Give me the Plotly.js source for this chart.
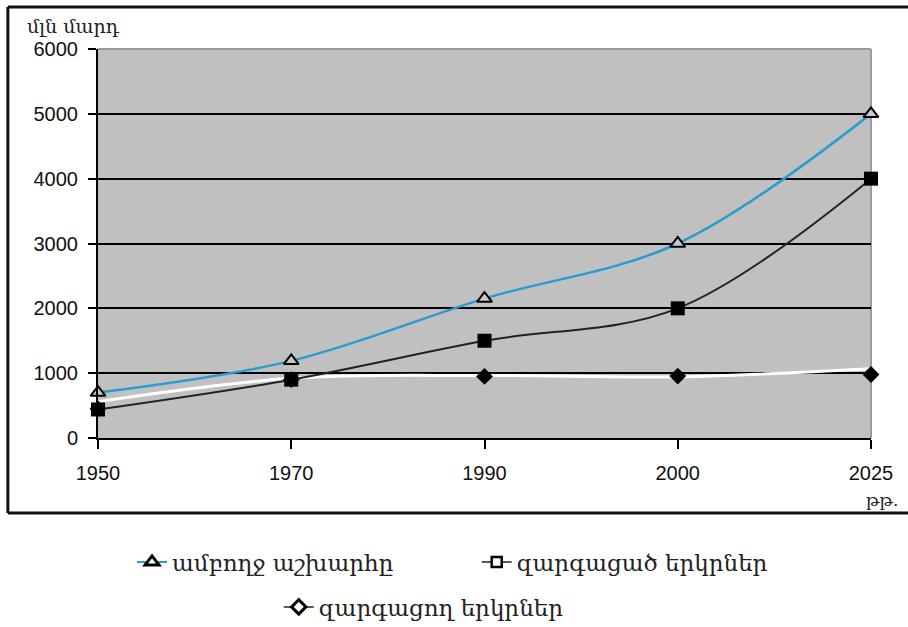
<!DOCTYPE html>
<html>
<head>
<meta charset="utf-8">
<script src="https://cdn.plot.ly/plotly-3.0.1.min.js"></script>
<style>html,body{margin:0;padding:0;background:#fff;}#chart{width:908px;height:627px;}</style>
</head>
<body>
<div id="chart"></div>
<script>
// Data
const years = ["1950", "1970", "1990", "2000", "2025"];
const worldPop = [700, 1190, 2150, 3000, 5000];          // ամբողջ աշխարհը
const developedPop = [440, 900, 1500, 2000, 4000];       // զարգացած երկրներ
const developingLine = [560, 920, 965, 945, 1070];       // զարգացող երկրներ (white curve)
const developingPts = [450, 900, 950, 955, 980];         // զարգացող երկրներ (markers)
const yTicks = [0, 1000, 2000, 3000, 4000, 5000, 6000];

const names = ["ամբողջ աշխարհը", "զարգացած երկրներ", "զարգացող երկրներ"];
const armFont = "DejaVu Serif, Noto Sans, serif";
const numFont = "Liberation Sans, Arial, sans-serif";

const traces = [
  {x: years, y: developingLine, type: "scatter", mode: "lines",
   line: {color: "#ffffff", width: 3, shape: "spline", smoothing: 1},
   showlegend: false, cliponaxis: false, hoverinfo: "skip"},
  {x: years, y: developingPts, type: "scatter", mode: "markers",
   marker: {symbol: "diamond", size: 13, color: "#000"},
   showlegend: false, cliponaxis: false},
  {x: years, y: developedPop, type: "scatter", mode: "lines+markers",
   line: {color: "#222222", width: 2, shape: "spline", smoothing: 1},
   marker: {symbol: "square", size: 14, color: "#000"},
   showlegend: false, cliponaxis: false},
  {x: years, y: worldPop, type: "scatter", mode: "lines+markers",
   line: {color: "#2b9bcf", width: 2.5, shape: "spline", smoothing: 1},
   marker: {symbol: "triangle-up", size: 13, color: "#c8c8c8", line: {color: "#000", width: 2}},
   showlegend: false, cliponaxis: false},
  // legend entries
  {x: [null], y: [null], type: "scatter", mode: "lines+markers", name: names[0],
   line: {color: "#2b9bcf", width: 2},
   marker: {symbol: "triangle-up", size: 12, color: "#fff", line: {color: "#000", width: 3}},
   legend: "legend"},
  {x: [null], y: [null], type: "scatter", mode: "lines+markers", name: names[1],
   line: {color: "#222", width: 1.5},
   marker: {symbol: "square", size: 10, color: "#fff", line: {color: "#000", width: 2.5}},
   legend: "legend3"},
  {x: [null], y: [null], type: "scatter", mode: "lines+markers", name: names[2],
   line: {color: "#222", width: 1.5},
   marker: {symbol: "diamond", size: 11, color: "#fff", line: {color: "#000", width: 3}},
   legend: "legend2"}
];

const legendFont = {family: armFont, size: 23, color: "#222"};

const layout = {
  width: 908, height: 627,
  margin: {l: 98, r: 37, t: 49, b: 189, autoexpand: false},
  paper_bgcolor: "#ffffff",
  plot_bgcolor: "#c0c0c0",
  showlegend: true,
  xaxis: {
    type: "category", categoryarray: years, range: [0, 4],
    showgrid: false, zeroline: false,
    showline: true, linecolor: "#000", linewidth: 2,
    ticks: "outside", ticklen: 9, tickwidth: 2, tickcolor: "#000",
    ticklabelstandoff: 7,
    tickfont: {family: numFont, size: 20, color: "#111"}
  },
  yaxis: {
    range: [0, 6000], tickvals: yTicks,
    showgrid: true, gridcolor: "#000", gridwidth: 2,
    zeroline: false,
    showline: true, linecolor: "#000", linewidth: 2,
    ticks: "outside", ticklen: 8, tickwidth: 2, tickcolor: "#000",
    ticklabelstandoff: 6,
    tickfont: {family: numFont, size: 20, color: "#111"}
  },
  legend: {
    orientation: "h", xref: "container", yref: "container",
    x: 0.1454, y: 0.1037, xanchor: "left", yanchor: "middle",
    font: legendFont, bgcolor: "rgba(0,0,0,0)"
  },
  legend3: {
    orientation: "h", xref: "container", yref: "container",
    x: 0.525, y: 0.1037, xanchor: "left", yanchor: "middle",
    font: legendFont, bgcolor: "rgba(0,0,0,0)"
  },
  legend2: {
    orientation: "h", xref: "container", yref: "container",
    x: 0.307, y: 0.032, xanchor: "left", yanchor: "middle",
    font: legendFont, bgcolor: "rgba(0,0,0,0)"
  },
  annotations: [
    {text: "մլն մարդ", xref: "paper", yref: "paper", x: -0.095, y: 1.058,
     xanchor: "left", yanchor: "middle", showarrow: false,
     font: {family: armFont, size: 19, color: "#222"}},
    {text: "թթ.", xref: "paper", yref: "paper", x: 1.037, y: -0.16,
     xanchor: "right", yanchor: "middle", showarrow: false,
     font: {family: armFont, size: 17, color: "#222"}}
  ],
  shapes: [
    {type: "line", xref: "paper", yref: "paper", x0: 0, x1: 1, y0: 1, y1: 1,
     line: {color: "#9a9a9a", width: 2}, layer: "between"},
    {type: "line", xref: "paper", yref: "paper", x0: 1, x1: 1, y0: 0, y1: 1,
     line: {color: "#9a9a9a", width: 2}, layer: "between"},
    {type: "line", xref: "paper", yref: "paper", x0: -0.1166, x1: 1.2, y0: 1.108, y1: 1.108,
     line: {color: "#111", width: 3}},
    {type: "line", xref: "paper", yref: "paper", x0: -0.1166, x1: 1.2, y0: -0.193, y1: -0.193,
     line: {color: "#111", width: 3}},
    {type: "line", xref: "paper", yref: "paper", x0: -0.1166, x1: -0.1166, y0: -0.193, y1: 1.108,
     line: {color: "#111", width: 3}}
  ]
};

Plotly.newPlot("chart", traces, layout, {displayModeBar: false, staticPlot: true});
</script>
</body>
</html>
